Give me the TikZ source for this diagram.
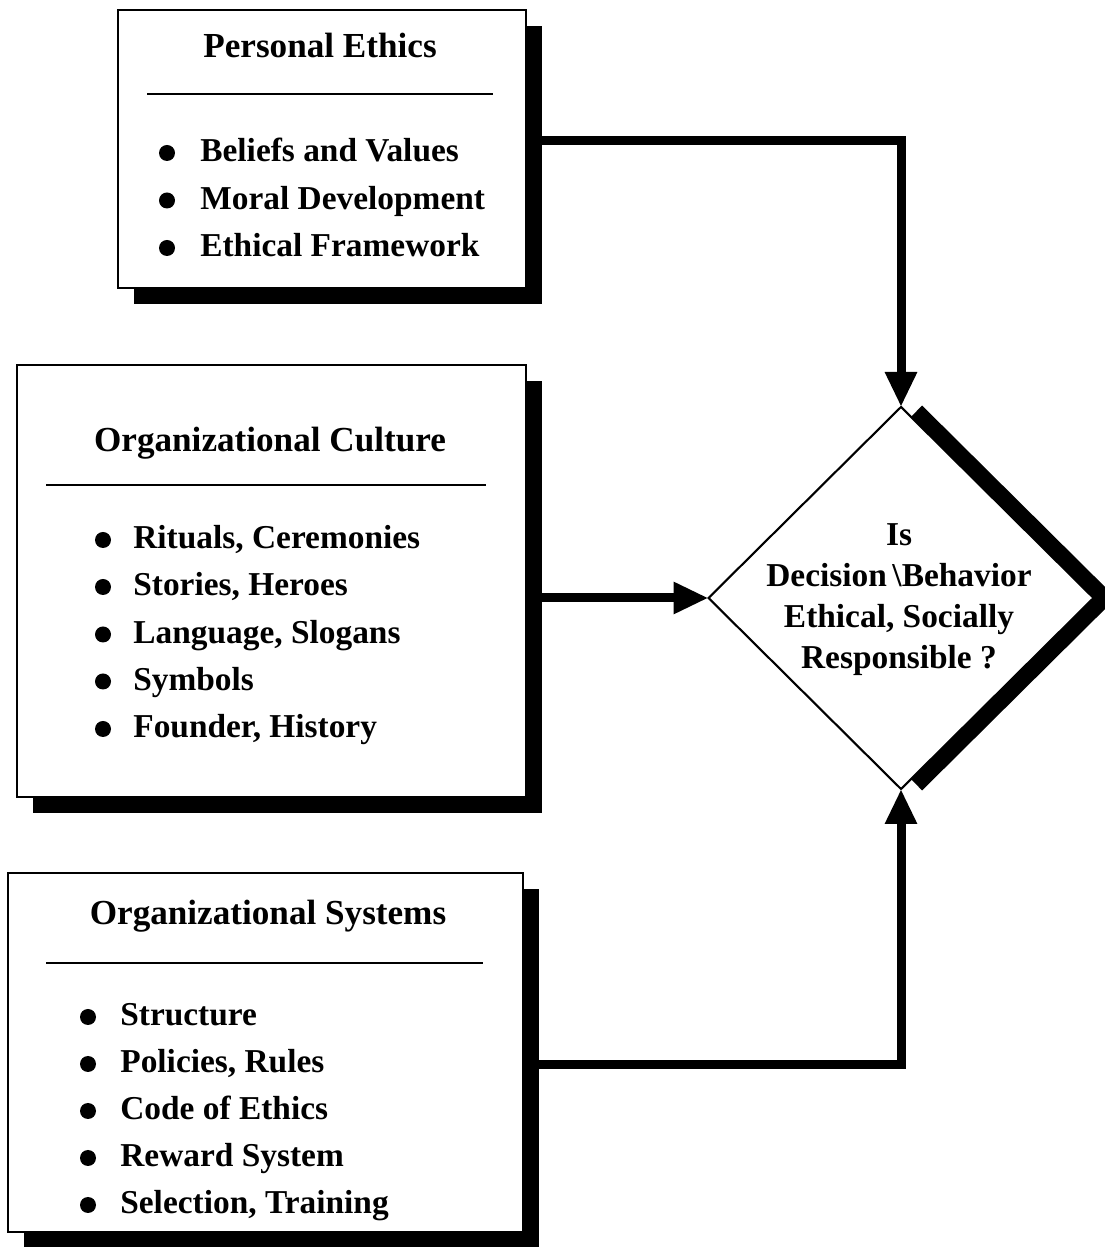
\documentclass[tikz,border=0pt]{standalone}
\usepackage{fontspec}
\setmainfont{Liberation Serif}
\usetikzlibrary{arrows.meta,shapes.geometric,shadows}

\tikzset{
  box/.style={draw, line width=1.2pt, fill=white, inner sep=0pt, outer sep=0pt,
    general shadow={fill=black, shadow xshift=0.32cm, shadow yshift=-0.32cm}},
  head/.style={font=\fontsize{20}{24}\selectfont\bfseries, inner sep=0pt, anchor=base},
  item/.style={font=\fontsize{19}{23}\selectfont\bfseries, inner sep=0pt, anchor=base west},
  rule/.style={line width=1.6pt},
  conn/.style={line width=0.18cm, -{Triangle[length=0.7cm,width=0.6cm]}},
}

\begin{document}
\begin{tikzpicture}
    \useasboundingbox (0,0) rectangle (22.08,24.94);
    % kassar
    \node[box, minimum width=8.16cm, minimum height=5.56cm] (pers) at (6.44,21.96) {};
    \node[box, minimum width=10.18cm, minimum height=8.64cm] (cult) at (5.43,13.32) {};
    \node[box, minimum width=10.30cm, minimum height=7.18cm] (sys) at (5.31,3.89) {};
    % personal ethics
    \node[head] (persT) at (6.40,23.78) {Personal Ethics};
    \draw[rule] (2.94,23.06) -- (9.86,23.06);
    \node[item] (pe1) at (4.00,21.70) {Beliefs and Values};
    \node[item] (pe2) at (4.00,20.75) {Moral Development};
    \node[item] (pe3) at (4.00,19.80) {Ethical Framework};
    \fill ([shift={(-0.66,0.18)}]pe1.base west) circle (0.16);
    \fill ([shift={(-0.66,0.18)}]pe2.base west) circle (0.16);
    \fill ([shift={(-0.66,0.18)}]pe3.base west) circle (0.16);
    % culture
    \node[head] (cultT) at (5.40,15.90) {Organizational Culture};
    \draw[rule] (0.92,15.24) -- (9.72,15.24);
    \node[item] (oc1) at (2.66,13.96) {Rituals, Ceremonies};
    \node[item] (oc2) at (2.66,13.02) {Stories, Heroes};
    \node[item] (oc3) at (2.66,12.07) {Language, Slogans};
    \node[item] (oc4) at (2.66,11.13) {Symbols};
    \node[item] (oc5) at (2.66,10.18) {Founder, History};
    \fill ([shift={(-0.60,0.18)}]oc1.base west) circle (0.16);
    \fill ([shift={(-0.60,0.18)}]oc2.base west) circle (0.16);
    \fill ([shift={(-0.60,0.18)}]oc3.base west) circle (0.16);
    \fill ([shift={(-0.60,0.18)}]oc4.base west) circle (0.16);
    \fill ([shift={(-0.60,0.18)}]oc5.base west) circle (0.16);
    % systems
    \node[head] (sysT) at (5.36,6.44) {Organizational Systems};
    \draw[rule] (0.92,5.68) -- (9.66,5.68);
    \node[item] (os1) at (2.40,4.42) {Structure};
    \node[item] (os2) at (2.40,3.48) {Policies, Rules};
    \node[item] (os3) at (2.40,2.54) {Code of Ethics};
    \node[item] (os4) at (2.40,1.60) {Reward System};
    \node[item] (os5) at (2.40,0.66) {Selection, Training};
    \fill ([shift={(-0.64,0.18)}]os1.base west) circle (0.16);
    \fill ([shift={(-0.64,0.18)}]os2.base west) circle (0.16);
    \fill ([shift={(-0.64,0.18)}]os3.base west) circle (0.16);
    \fill ([shift={(-0.64,0.18)}]os4.base west) circle (0.16);
    \fill ([shift={(-0.64,0.18)}]os5.base west) circle (0.16);
    % tigull
    \node[diamond, draw, line width=1.2pt, fill=white, inner sep=0pt, outer sep=0pt,
      minimum width=7.7cm, minimum height=7.64cm] (dia) at (18.02,12.98) {};
    \draw[line width=0.32cm] ([shift={(0.31,-0.085)}]dia.north) -- ([xshift=0.226cm]dia.east)
      -- ([shift={(0.31,0.085)}]dia.south);
    \node[font=\fontsize{19}{23.3}\selectfont\bfseries, align=center, inner sep=0pt] (q) at (17.98,12.95)
      {Is\\Decision\,\textbackslash Behavior\\Ethical, Socially\\Responsible ?};
    % orvar
    \draw[conn] ([yshift=0.16cm]pers.east) -| (dia.north);
    \draw[conn] (cult.east |- dia.west) -- (dia.west);
    \draw[conn] ([yshift=-0.25cm]sys.east) -| (dia.south);
\end{tikzpicture}
\end{document}
